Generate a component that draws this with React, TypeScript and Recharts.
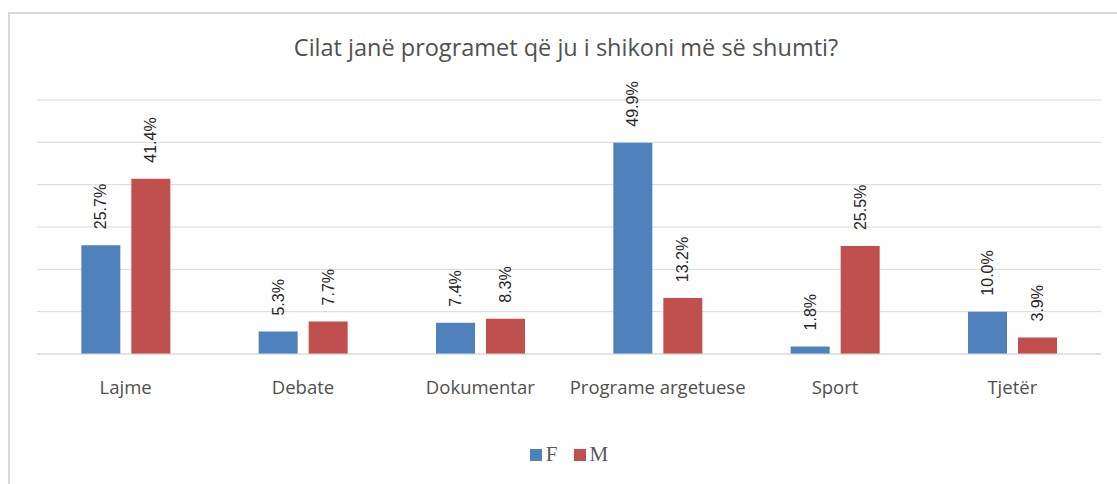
import { BarChart, Bar, XAxis, YAxis, CartesianGrid, Legend, LabelList } from 'recharts'

const categories = ['Lajme', 'Debate', 'Dokumentar', 'Programe argetuese', 'Sport', 'Tjetër']
const femaleValues = [25.7, 5.3, 7.4, 49.9, 1.8, 10.0]
const maleValues = [41.4, 7.7, 8.3, 13.2, 25.5, 3.9]
const yTicks = [0, 10, 20, 30, 40, 50, 60]

const chartData = categories.map((name, i) => ({
  name,
  F: femaleValues[i],
  M: maleValues[i],
}))

const BLUE = '#4F81BD'
const RED = '#C0504D'
const GRAY = '#595959'

// vertical percentage label above each bar
const RotatedLabel = (props: any) => {
  const { x, y, width, value } = props
  const cx = Number(x) + Number(width) / 2
  const top = Number(y) - 16
  return (
    <text
      x={cx}
      y={top}
      transform={`rotate(-90, ${cx}, ${top})`}
      textAnchor="start"
      dominantBaseline="central"
      fontSize={16}
      fontFamily="Liberation Sans, Arial, sans-serif"
      fill="#262626"
    >
      {Number(value).toFixed(1)}%
    </text>
  )
}

const LegendContent = () => (
  <div
    style={{
      display: 'flex',
      justifyContent: 'center',
      alignItems: 'center',
      gap: 16,
      fontFamily: 'Liberation Serif, serif',
      fontSize: 21,
      color: GRAY,
    }}
  >
    {[
      { label: 'F', color: BLUE },
      { label: 'M', color: RED },
    ].map((item) => (
      <span key={item.label} style={{ display: 'flex', alignItems: 'center', gap: 4 }}>
        <span style={{ width: 12, height: 12, background: item.color, display: 'inline-block' }} />
        {item.label}
      </span>
    ))}
  </div>
)

export default function App() {
  return (
    <div style={{ position: 'absolute', left: 0, top: 0, width: 1117, height: 484, background: '#fff' }}>
      <div
        style={{
          position: 'absolute',
          left: 8,
          top: 12,
          width: 1120,
          height: 480,
          borderLeft: '2px solid #d9d9d9',
          borderTop: '2px solid #d9d9d9',
        }}
      />
      <div
        style={{
          position: 'absolute',
          left: 0,
          top: 31,
          width: 1132,
          textAlign: 'center',
          fontFamily: 'Open Sans, sans-serif',
          fontSize: 23.5,
          color: '#505050',
        }}
      >
        Cilat janë programet që ju i shikoni më së shumti?
      </div>
      <div style={{ position: 'absolute', left: 0, top: 0 }}>
        <BarChart
          width={1117}
          height={484}
          data={chartData}
          margin={{ top: 100, right: 16, left: 37, bottom: 23 }}
          barCategoryGap="25%"
          barGap={11}
        >
          <CartesianGrid vertical={false} stroke="#d9d9d9" />
          <XAxis
            dataKey="name"
            axisLine={{ stroke: '#d9d9d9' }}
            tickLine={false}
            height={82}
            tick={{ fill: '#505050', fontSize: 18.5, fontFamily: 'Open Sans, sans-serif' }}
            tickMargin={21}
          />
          <YAxis domain={[0, 60]} ticks={yTicks} hide />
          <Legend verticalAlign="bottom" content={<LegendContent />} wrapperStyle={{ bottom: 17 }} />
          <Bar dataKey="F" fill={BLUE} isAnimationActive={false}>
            <LabelList dataKey="F" content={<RotatedLabel />} />
          </Bar>
          <Bar dataKey="M" fill={RED} isAnimationActive={false}>
            <LabelList dataKey="M" content={<RotatedLabel />} />
          </Bar>
        </BarChart>
      </div>
    </div>
  )
}
